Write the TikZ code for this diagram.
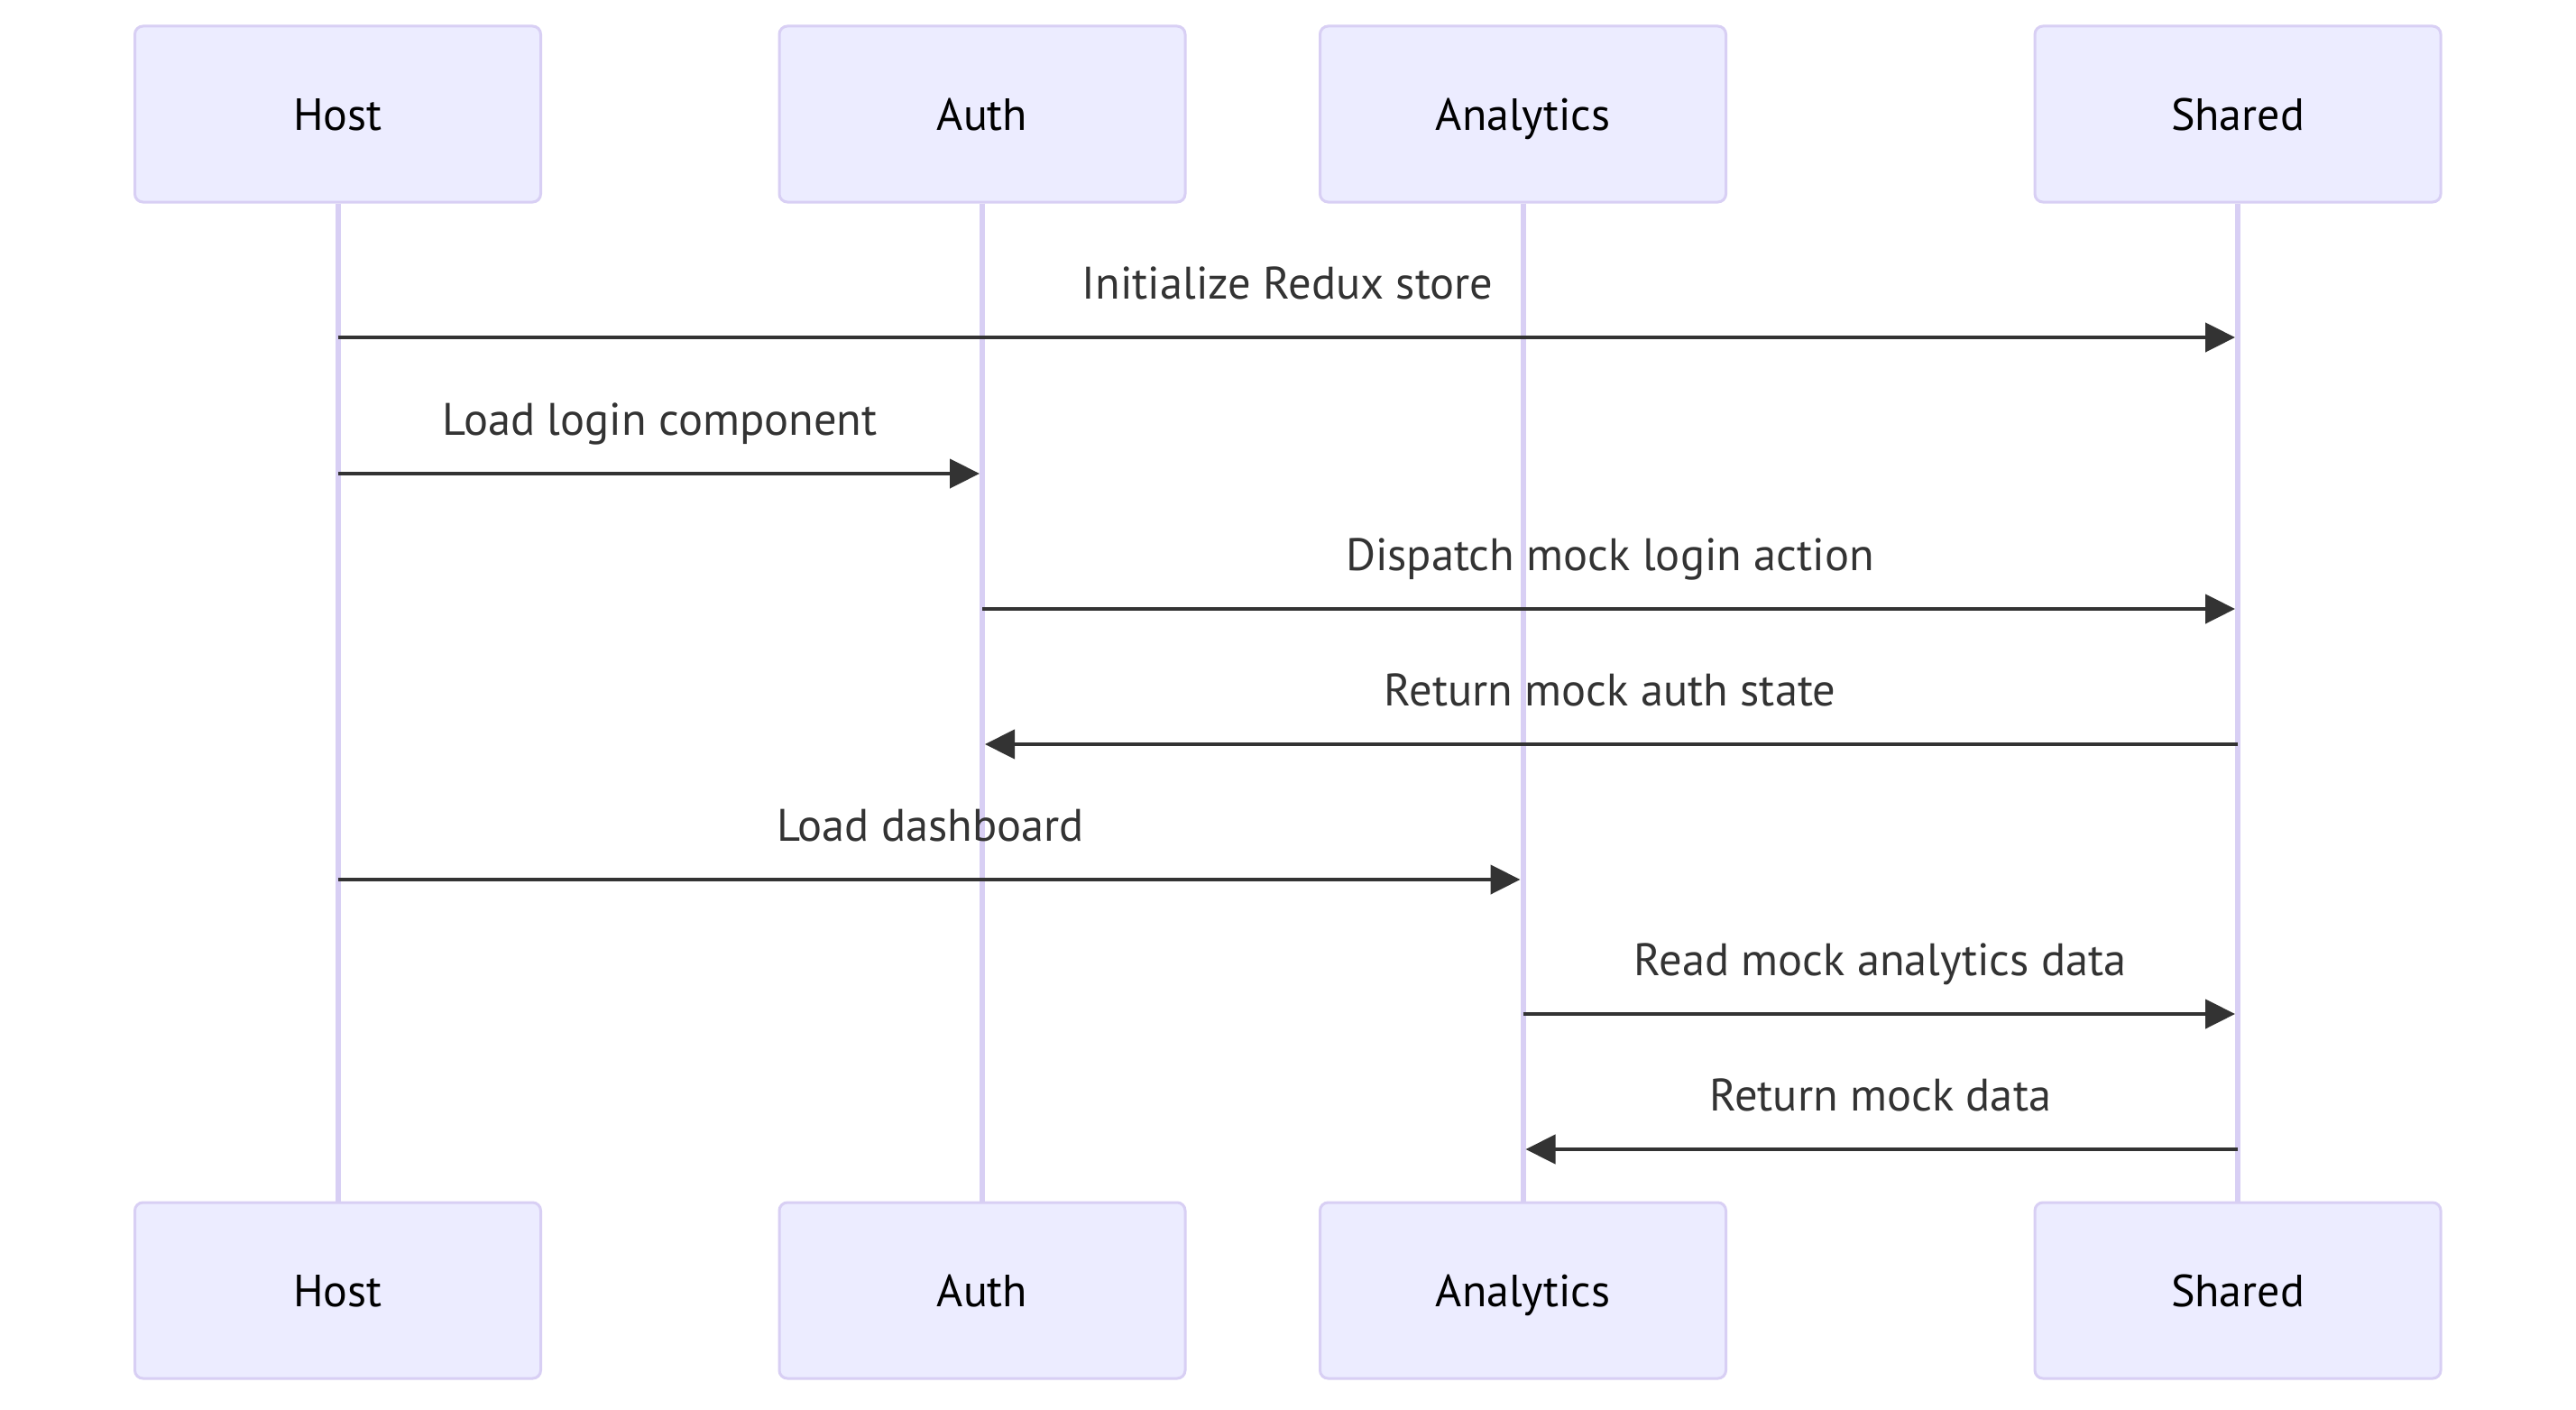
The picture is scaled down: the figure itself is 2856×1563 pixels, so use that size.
\documentclass[tikz,border=0pt]{standalone}
\usepackage{fontspec}
\setmainfont{PT Sans}
\usetikzlibrary{arrows.meta}
\definecolor{actfill}{HTML}{ECECFF}
\definecolor{actborder}{HTML}{D8CFF4}
\definecolor{msg}{HTML}{333333}
\begin{document}
\begin{tikzpicture}[x=1pt,y=-1pt,
  actor/.style={draw=actborder, fill=actfill, line width=3pt, rounded corners=9pt,
    minimum width=450pt, minimum height=195pt, inner sep=0pt,
    font=\fontsize{50}{60}\selectfont, text=black, text height=36pt, text depth=0pt},
  life/.style={draw=actborder, line width=6pt},
  msgline/.style={draw=msg, line width=4.5pt, shorten >=3pt, -{Triangle[length=33pt,width=32pt]}},
  lbl/.style={font=\fontsize{50.5}{60}\selectfont, text=msg, anchor=base, yshift=43pt}]
\useasboundingbox[fill=white] (0,0) rectangle (2856,1563);
% actors top
\node[actor] (hostT) at (374.5,126.5) {Host};
\node[actor] (authT) at (1089,126.5) {Auth};
\node[actor] (anaT) at (1688.5,126.5) {Analytics};
\node[actor] (shT) at (2481,126.5) {Shared};
% actors bottom
\node[actor] (hostB) at (374.5,1430.5) {Host};
\node[actor] (authB) at (1089,1430.5) {Auth};
\node[actor] (anaB) at (1688.5,1430.5) {Analytics};
\node[actor] (shB) at (2481,1430.5) {Shared};
% lifelines
\draw[life] (hostT.south) -- (hostB.north);
\draw[life] (authT.south) -- (authB.north);
\draw[life] (anaT.south) -- (anaB.north);
\draw[life] (shT.south) -- (shB.north);
% message rows
\coordinate (r1) at (0,374);
\coordinate (r2) at (0,525);
\coordinate (r3) at (0,675);
\coordinate (r4) at (0,825);
\coordinate (r5) at (0,975);
\coordinate (r6) at (0,1124);
\coordinate (r7) at (0,1274);
\draw[msgline] (hostT |- r1) -- node[lbl] {Initialize Redux store} (shT |- r1);
\draw[msgline] (hostT |- r2) -- node[lbl] {Load login component} (authT |- r2);
\draw[msgline] (authT |- r3) -- node[lbl] {Dispatch mock login action} (shT |- r3);
\draw[msgline] (shT |- r4) -- node[lbl] {Return mock auth state} (authT |- r4);
\draw[msgline] (hostT |- r5) -- node[lbl] {Load dashboard} (anaT |- r5);
\draw[msgline] (anaT |- r6) -- node[lbl] {Read mock analytics data} (shT |- r6);
\draw[msgline] (shT |- r7) -- node[lbl] {Return mock data} (anaT |- r7);
\end{tikzpicture}
\end{document}
